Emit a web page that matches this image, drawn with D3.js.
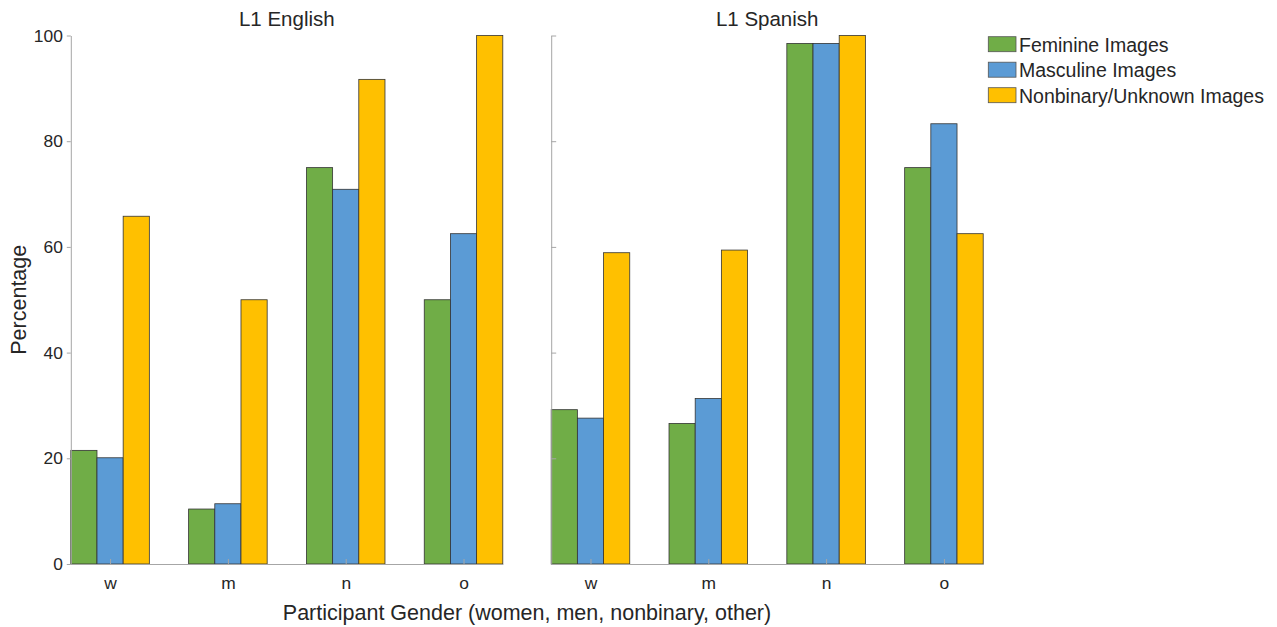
<!DOCTYPE html>
<html><head><meta charset="utf-8">
<script src="https://cdn.jsdelivr.net/npm/d3@7"></script>
<style>body{margin:0;background:#fff;} text{font-family:"Liberation Sans",Arial,sans-serif;fill:#262626;}</style>
</head><body>
<svg id="chart" width="1277" height="627"></svg>
<script>
const categories = ["w", "m", "n", "o"];
const seriesNames = ["Feminine Images", "Masculine Images", "Nonbinary/Unknown Images"];
const panelTitles = ["L1 English", "L1 Spanish"];
const englishFeminine = [21.5, 10.4, 75.0, 50.0];
const englishMasculine = [20.1, 11.4, 70.9, 62.5];
const englishNonbinary = [65.8, 50.0, 91.7, 100.0];
const spanishFeminine = [29.2, 26.6, 98.5, 75.0];
const spanishMasculine = [27.6, 31.3, 98.5, 83.3];
const spanishNonbinary = [58.9, 59.4, 100.0, 62.5];
const yTicks = [0, 20, 40, 60, 80, 100];
const colors = ["#70AD47", "#5B9BD5", "#FFC000"];

const panelData = [
  [englishFeminine, englishMasculine, englishNonbinary],
  [spanishFeminine, spanishMasculine, spanishNonbinary]
];

const svg = d3.select("#chart");
const yTop = 35.5, yBot = 564;
const panelX = [[70.8, 502.8], [551.2, 983.2]];
const y = d3.scaleLinear().domain([0, 100]).range([yBot, yTop]);
const bw = 2 / 9;
const axisColor = "#a6a6a6";
const fontFam = "Liberation Sans, Arial, sans-serif";

panelData.forEach((pd, p) => {
  const x = d3.scaleLinear().domain([1 - 1 / 3, 4 + 1 / 3]).range(panelX[p]);
  const g = svg.append("g");
  pd.forEach((vals, s) => {
    g.selectAll(null).data(vals).enter().append("rect")
      .attr("x", (d, i) => x(i + 1 + (s - 1) * bw - bw / 2))
      .attr("width", x(bw) - x(0))
      .attr("y", d => y(d))
      .attr("height", d => y(0) - y(d))
      .attr("fill", colors[s])
      .attr("stroke", "#333333")
      .attr("stroke-width", 0.8);
  });
  // y axis
  const yAxis = d3.axisLeft(y).tickValues(yTicks)
    .tickSizeInner(p === 0 ? 4 : -5).tickSizeOuter(0).tickPadding(p === 0 ? 4 : 10)
    .tickFormat(p === 0 ? d3.format("d") : () => "");
  const ya = g.append("g").attr("transform", `translate(${panelX[p][0]},0)`).call(yAxis);
  ya.select(".domain").attr("stroke", axisColor);
  ya.selectAll(".tick line").attr("stroke", axisColor);
  ya.selectAll(".tick text").attr("font-size", 17.4).attr("fill", "#262626").attr("font-family", fontFam);
  // x axis
  const xAxis = d3.axisBottom(x).tickValues([1, 2, 3, 4]).tickFormat((d, i) => categories[i])
    .tickSizeInner(-5).tickSizeOuter(0).tickPadding(13);
  const xa = g.append("g").attr("transform", `translate(0,${yBot})`).call(xAxis);
  xa.select(".domain").attr("stroke", axisColor);
  xa.selectAll(".tick line").attr("stroke", axisColor);
  xa.selectAll(".tick text").attr("font-size", 17.4).attr("fill", "#262626").attr("font-family", fontFam);
  // title
  g.append("text").attr("x", (panelX[p][0] + panelX[p][1]) / 2).attr("y", 26)
    .attr("text-anchor", "middle").attr("font-size", 20.5).text(panelTitles[p]);
});

// axis labels
svg.append("text").attr("x", (panelX[0][0] + panelX[1][1]) / 2).attr("y", 620)
  .attr("text-anchor", "middle").attr("font-size", 21.5).text("Participant Gender (women, men, nonbinary, other)");
svg.append("text").attr("transform", `translate(26,${(yTop + yBot) / 2}) rotate(-90)`)
  .attr("text-anchor", "middle").attr("font-size", 21.5).text("Percentage");

// legend
const lg = svg.append("g").attr("transform", "translate(988.3,36.7)");
seriesNames.forEach((name, i) => {
  const row = lg.append("g").attr("transform", `translate(0,${i * 25.5})`);
  row.append("rect").attr("x", 0).attr("y", 0).attr("width", 27.7).attr("height", 15)
    .attr("fill", colors[i]).attr("stroke", "#555555").attr("stroke-width", 0.8);
  row.append("text").attr("x", 30.7).attr("y", 14.8).attr("font-size", 19.5).text(name);
});
</script>
</body></html>
